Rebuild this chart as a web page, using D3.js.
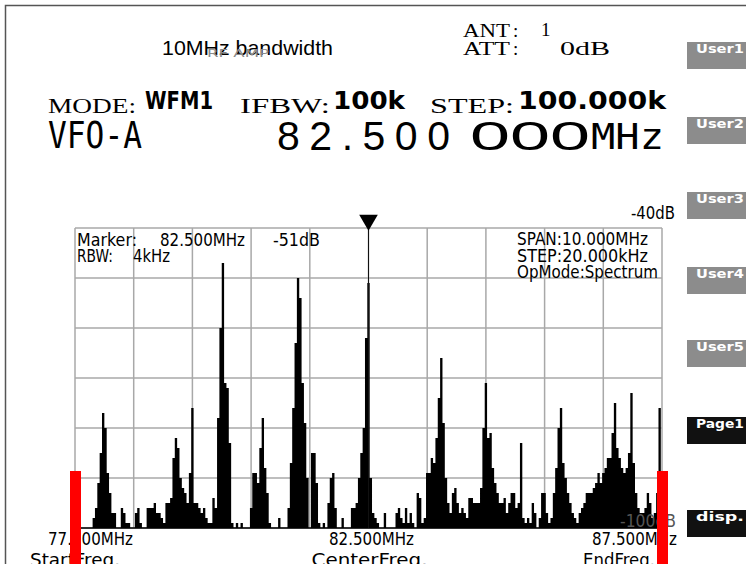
<!DOCTYPE html>
<html>
<head>
<meta charset="utf-8">
<script src="https://cdn.jsdelivr.net/npm/d3@7/dist/d3.min.js"></script>
<style>
  html, body { margin: 0; padding: 0; background: #fff; }
  svg { display: block; }
</style>
</head>
<body>
<div id="chart"></div>
<script>
// spectrum trace: 77.5 - 87.5 MHz, one reading every 40 kHz
const startFreq = 77.5;
const endFreq = 87.5;
const stepMHz = 0.04;
const levelsDb = [
  -100,-100,-100,-100,-100,-100,-100,-100,-98,-96,
  -91,-85,-77,-80,-89,-93,-97,-97,-100,-100,
  -96,-97,-99,-99,-100,-100,-97,-96,-99,-100,
  -100,-96,-96,-96,-95,-97,-97,-98,-99,-95,
  -95,-94,-86,-82,-84,-90,-92,-93,-95,-89,
  -76,-95,-95,-96,-97,-96,-98,-99,-99,-94,
  -96,-78,-60,-47,-71,-72,-83,-99,-100,-99,
  -100,-99,-100,-100,-100,-96,-89,-89,-91,-84,
  -78,-88,-93,-99,-100,-100,-100,-98,-100,-100,
  -100,-96,-87,-76,-63,-50,-54,-71,-79,-90,
  -100,-85,-85,-91,-99,-100,-99,-100,-95,-90,
  -89,-96,-100,-100,-98,-100,-100,-100,-96,-96,
  -95,-90,-85,-80,-62,-51,-90,-97,-98,-99,
  -100,-100,-97,-100,-100,-100,-100,-97,-96,-98,
  -99,-96,-99,-97,-99,-100,-93,-94,-99,-98,
  -89,-89,-86,-87,-82,-74,-66,-79,-90,-95,
  -97,-93,-92,-95,-97,-96,-97,-98,-94,-94,
  -95,-95,-95,-92,-80,-71,-82,-81,-88,-91,
  -93,-95,-95,-94,-97,-95,-93,-93,-96,-95,
  -83,-98,-99,-98,-99,-95,-97,-100,-98,-93,
  -93,-97,-99,-98,-93,-88,-80,-76,-87,-90,
  -93,-95,-97,-98,-99,-97,-96,-95,-93,-93,
  -93,-92,-91,-89,-91,-89,-88,-86,-86,-81,
  -75,-84,-86,-88,-89,-88,-85,-73,-87,-93,
  -96,-97,-97,-96,-93,-95,-98,-97,-93,-76,
  -100
];
const refTopDb = -40;
const refBottomDb = -100;
const markerFreq = 82.5;
const markerDb = -51;

const freqLabels = ["77.500MHz", "82.500MHz", "87.500MHz"];
const freqNames = ["StartFreq.", "CenterFreq.", "EndFreq."];
const buttonLabels = ["User1", "User2", "User3", "User4", "User5", "Page1", "disp."];
const buttonDark = [false, false, false, false, false, true, true];

const W = 746, H = 564;
const plot = { left: 75, right: 662, top: 228, bottom: 528 };
const narrow = "'DejaVu Sans', sans-serif";
const serif = "'Liberation Serif', 'DejaVu Serif', serif";

const svg = d3.select('#chart').append('svg')
  .attr('width', W).attr('height', H);

// outer frame
svg.append('rect')
  .attr('x', 5.5).attr('y', 5.5).attr('width', 900).attr('height', 700)
  .attr('fill', 'none').attr('stroke', '#555').attr('stroke-width', 1.5);

// helper for squeezed text
function txt(s, x, y, size, opts = {}) {
  const t = svg.append('text')
    .attr('x', x).attr('y', y)
    .attr('font-family', opts.family || narrow)
    .attr('font-size', size)
    .attr('font-weight', opts.weight || 'normal')
    .attr('fill', opts.fill || '#000')
    .attr('text-anchor', opts.anchor || 'start')
    .text(s);
  if (opts.len) t.attr('textLength', opts.len).attr('lengthAdjust', opts.adjust || 'spacingAndGlyphs');
  return t;
}

// header
txt('10MHz bandwidth', 162, 55, 21, { family: "'Liberation Sans', Arial, sans-serif", len: 171 });
txt('RF AMP', 207, 57, 11, { fill: '#8a8a8a', len: 62 });
txt('ANT', 463, 37, 19, { family: serif, len: 47 });
txt(':', 513, 37, 19, { family: serif });
txt('1', 541, 36, 19, { family: serif });
txt('ATT', 463, 55, 19, { family: serif, len: 47 });
txt(':', 513, 55, 19, { family: serif });
txt('0dB', 560, 55, 19, { family: serif, len: 50 });

txt('MODE:', 48, 113, 21, { family: serif, len: 88 });
txt('WFM1', 145, 109, 25, { weight: 'bold', len: 68 });
txt('IFBW:', 240, 113, 21, { family: serif, len: 90 });
txt('100k', 333, 109, 25, { weight: 'bold', len: 72 });
txt('STEP:', 430, 113, 21, { family: serif, len: 84 });
txt('100.000k', 518, 109, 25, { weight: 'bold', len: 148 });

txt('VFO-A', 48, 148, 38, { family: "'DejaVu Sans Mono', monospace", len: 94 });
txt('82.500', 277, 150, 41, { family: "'Liberation Sans', sans-serif", len: 173, adjust: 'spacing' });
txt('000', 470, 150, 41, { family: "'Liberation Sans', sans-serif", len: 120 });
txt('MHz', 591, 149, 35, { family: "'DejaVu Sans Mono', monospace", len: 73 });

// scales
const x = d3.scaleLinear().domain([startFreq, endFreq]).range([plot.left, plot.right]);
const y = d3.scaleLinear().domain([refBottomDb, refTopDb]).range([plot.bottom, plot.top]);

const g = svg.append('g');

// grid
g.selectAll('.vgrid')
  .data(d3.range(0, 11).map(i => startFreq + i))
  .enter().append('line')
  .attr('x1', d => x(d)).attr('x2', d => x(d))
  .attr('y1', plot.top).attr('y2', plot.bottom)
  .attr('stroke', '#a8a8a8').attr('stroke-width', 1.5);
g.selectAll('.hgrid')
  .data(d3.range(refBottomDb, refTopDb + 1, 10))
  .enter().append('line')
  .attr('x1', plot.left).attr('x2', plot.right)
  .attr('y1', d => y(d)).attr('y2', d => y(d))
  .attr('stroke', '#a8a8a8').attr('stroke-width', 1.5);

// scale readouts
txt('-40dB', 675, 219, 17, { anchor: 'end', len: 44 });
txt('-100dB', 620, 527, 17, { fill: '#555', len: 56 });

// spectrum trace, filled down to the floor
const trace = levelsDb.map((db, i) => ({ f: startFreq + i * stepMHz, db }));
const area = d3.area()
  .x(d => x(d.f))
  .y0(y(refBottomDb))
  .y1(d => y(d.db))
  .curve(d3.curveStep);
g.append('path')
  .datum(trace)
  .attr('d', area)
  .attr('fill', '#000');

// baseline
g.append('line')
  .attr('x1', plot.left).attr('x2', plot.right)
  .attr('y1', plot.bottom).attr('y2', plot.bottom)
  .attr('stroke', '#000').attr('stroke-width', 1.5);

// marker
g.append('line')
  .attr('x1', x(markerFreq)).attr('x2', x(markerFreq))
  .attr('y1', plot.top - 2).attr('y2', plot.bottom)
  .attr('stroke', '#111').attr('stroke-width', 1);
g.append('path')
  .attr('d', d3.symbol().type(d3.symbolTriangle).size(150))
  .attr('transform', `translate(${x(markerFreq)},${plot.top - 8}) rotate(180)`)
  .attr('fill', '#000');

// in-plot readouts
txt('Marker:', 77, 246, 17, { len: 60 });
txt(`${markerFreq.toFixed(3)}MHz`, 160, 246, 17, { len: 85 });
txt(`${markerDb}dB`, 273, 246, 17, { len: 47 });
txt('RBW:', 77, 262, 17, { len: 36 });
txt('4kHz', 133, 262, 17, { len: 37 });
txt('SPAN:10.000MHz', 517, 245, 17, { len: 131 });
txt('STEP:20.000kHz', 517, 262, 17, { len: 131 });
txt('OpMode:Spectrum', 517, 278, 17, { len: 141 });

// frequency labels
const labelPos = [
  { x: x(startFreq) - 27, anchor: 'start', len: 85, nx: x(startFreq) - 45, nlen: 90 },
  { x: x(markerFreq) + 3, anchor: 'middle', len: 85, nx: x(markerFreq) + 1, nlen: 116 },
  { x: x(endFreq) + 15, anchor: 'end', len: 85, nx: x(endFreq) - 7, nlen: 72 }
];
freqLabels.forEach((s, i) => {
  const p = labelPos[i];
  txt(s, p.x, 545, 17, { anchor: p.anchor, len: p.len });
  txt(freqNames[i], p.nx, 566, 17, { anchor: p.anchor, len: p.nlen });
});

// red span edges
[startFreq, endFreq].forEach(f => {
  svg.append('rect')
    .attr('x', x(f) - 5).attr('y', 471)
    .attr('width', 11).attr('height', H - 471)
    .attr('fill', '#ff0000');
});

// soft keys
const keyTops = [42, 117, 192, 267, 340, 417, 510];
buttonLabels.forEach((s, i) => {
  svg.append('rect')
    .attr('x', 687).attr('y', keyTops[i])
    .attr('width', 60).attr('height', 27)
    .attr('fill', buttonDark[i] ? '#111' : '#8c8c8c');
  txt(s, 744, keyTops[i] + 11, 13, { anchor: 'end', weight: 'bold', fill: '#fff', len: 48 });
});
</script>
</body>
</html>
